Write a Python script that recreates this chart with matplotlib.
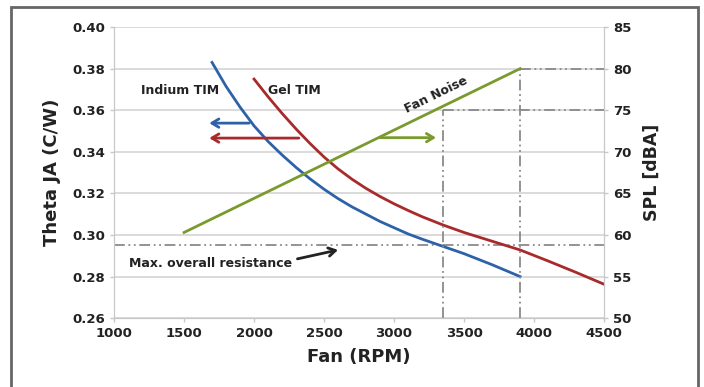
import matplotlib
matplotlib.use("Agg")
import matplotlib.pyplot as plt
from matplotlib.patches import Rectangle

# --- data ---
indium_rpm = [1700, 1800, 1900, 2000, 2100, 2200, 2300, 2400, 2500, 2600, 2700, 2800,
              2900, 3000, 3100, 3200, 3350, 3500, 3700, 3900]
indium_theta = [0.383, 0.3715, 0.3615, 0.3525, 0.345, 0.3385, 0.3325, 0.327, 0.322, 0.3175,
                0.3135, 0.310, 0.3065, 0.3035, 0.3005, 0.298, 0.2945, 0.291, 0.2857, 0.280]

gel_rpm = [2000, 2100, 2200, 2300, 2400, 2500, 2600, 2700, 2800, 2900, 3000, 3100, 3200,
           3350, 3500, 3700, 3900, 4100, 4300, 4500]
gel_theta = [0.375, 0.3665, 0.3585, 0.351, 0.344, 0.3375, 0.3318, 0.3268, 0.3224, 0.3185,
             0.315, 0.3118, 0.3088, 0.3048, 0.3012, 0.297, 0.2928, 0.2875, 0.282, 0.2763]

noise_rpm = [1500, 3900]
noise_spl = [60.3, 80.0]

max_resistance = 0.295
rpm_marks = [3350, 3900]
spl_marks = [75, 80]

x_ticks = [1000, 1500, 2000, 2500, 3000, 3500, 4000, 4500]
y_ticks = [0.26, 0.28, 0.30, 0.32, 0.34, 0.36, 0.38, 0.40]
spl_ticks = [50, 55, 60, 65, 70, 75, 80, 85]

BLUE = "#2e62a8"
RED = "#a82a2a"
GREEN = "#7a9a2e"
GRID = "#d4d4d4"
DASH = "#8a8a8a"
TXT = "#222222"

plt.rcParams["font.family"] = ["DejaVu Sans"]

fig = plt.figure(figsize=(7.04, 3.87), dpi=100)
ax = fig.add_axes([0.162, 0.178, 0.696, 0.752])
ax2 = ax.twinx()

ax.set_xlim(1000, 4500)
ax.set_ylim(0.26, 0.40)
ax2.set_ylim(50, 85)
ax.set_xticks(x_ticks)
ax.set_yticks(y_ticks)
ax2.set_yticks(spl_ticks)
ax.set_yticklabels([f"{v:.2f}" for v in y_ticks])

for a in (ax, ax2):
    for s in a.spines.values():
        s.set_color("#c8c8c8")
    a.spines["top"].set_visible(False)
    a.tick_params(colors="#c8c8c8", labelcolor=TXT, labelsize=9.5, length=3, width=1)
    for lab in a.get_xticklabels() + a.get_yticklabels():
        lab.set_fontweight("bold")
ax.grid(axis="y", color=GRID, lw=1.2)
ax.set_axisbelow(True)

dash_kw = dict(color=DASH, lw=1.3, dashes=(6, 2, 1, 2, 1, 2), zorder=1)
ax.axhline(max_resistance, **dash_kw)
for r, s in zip(rpm_marks, spl_marks):
    ax2.plot([r, r], [50, s], **dash_kw)
    ax2.plot([r, 4500], [s, s], **dash_kw)

ax.plot(indium_rpm, indium_theta, color=BLUE, lw=2, zorder=3)
ax.plot(gel_rpm, gel_theta, color=RED, lw=2, zorder=3)
ax2.plot(noise_rpm, noise_spl, color=GREEN, lw=2, zorder=3)

def arrow(a, x0, y0, x1, y1, color):
    a.annotate("", xy=(x1, y1), xytext=(x0, y0),
               arrowprops=dict(arrowstyle="->,head_length=0.5,head_width=0.3",
                               color=color, lw=2, shrinkA=0, shrinkB=0))

arrow(ax, 1965, 0.3538, 1680, 0.3538, BLUE)
arrow(ax, 2320, 0.3466, 1680, 0.3466, RED)
arrow(ax2, 2900, 71.7, 3300, 71.7, GREEN)
arrow(ax, 2310, 0.2885, 2600, 0.2928, "#222222")

txt_kw = dict(color=TXT, fontsize=9, fontweight="bold", ha="center", va="center")
ax.text(1471, 0.3697, "Indium TIM", **txt_kw)
ax.text(2290, 0.3697, "Gel TIM", **txt_kw)
ax.text(1690, 0.2864, "Max. overall resistance", **txt_kw)
ax2.text(3300, 76.9, "Fan Noise", rotation=26, **txt_kw)

ax.set_xlabel("Fan (RPM)", fontsize=13, fontweight="bold", color=TXT, labelpad=6)
ax.set_ylabel("Theta JA (C/W)", fontsize=13, fontweight="bold", color=TXT, labelpad=8)
ax2.set_ylabel("SPL [dBA]", fontsize=12.5, fontweight="bold", color=TXT, labelpad=8)

fig.patches.append(Rectangle((0.0156, -0.02), 0.976, 1.002, transform=fig.transFigure,
                             fill=False, edgecolor="#666666", lw=2))

fig.savefig("out.png", dpi=100)
